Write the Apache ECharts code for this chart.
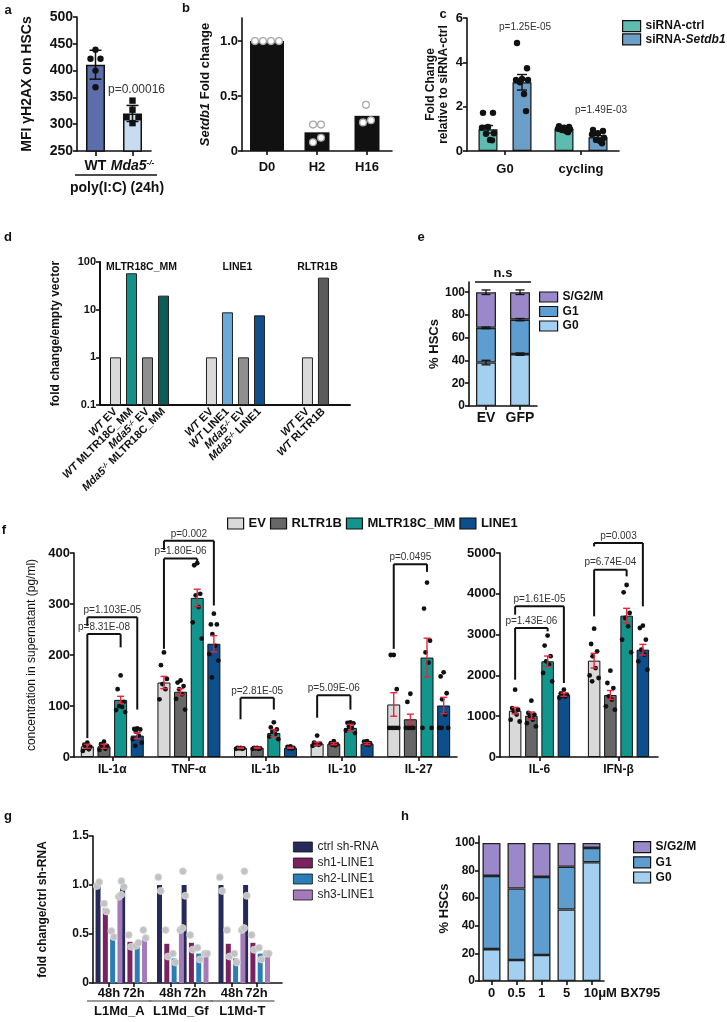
<!DOCTYPE html>
<html><head><meta charset="utf-8">
<script src="https://cdn.jsdelivr.net/npm/echarts@6/dist/echarts.min.js"></script>
<style>html,body{margin:0;padding:0;background:#fff}#c{width:727px;height:1022px}</style>
</head><body><div id="c"></div><script>
const FONT = "'Liberation Sans', Arial, Helvetica, sans-serif";

// ================= DATA =================
// panel a
const aCats = ['WT', 'Mda5'];
const aMeans = [411, 320];
const aErr = [27, 15];
const aDots = [[439, 422, 422, 400, 369], [344, 327, 313, 313, 302]];
const aPText = 'p=0.00016';
// panel b
const bCats = ['D0', 'H2', 'H16'];
const bValues = [1.0, 0.17, 0.32];
const bDots = [[1.0, 1.0, 1.0, 1.0], [0.24, 0.24, 0.12, 0.08], [0.42, 0.28, 0.26]];
// panel c
const cCats = ['G0', 'cycling'];
const cSeriesNames = ['siRNA-ctrl', 'siRNA-Setdb1'];
const cMeans = [[0.98, 1.0], [3.1, 0.62]];
const cErr = [[0.17, 0.04], [0.35, 0.07]];
const cDots = [
  [[1.72, 1.72, 1.08, 1.05, 0.8, 0.78, 0.5, 0.48], [1.12, 1.08, 1.05, 1.0, 0.98, 0.95, 0.9, 0.85]],
  [[4.87, 3.73, 3.25, 3.2, 3.2, 3.1, 2.57, 1.8], [0.95, 0.9, 0.8, 0.75, 0.6, 0.5, 0.45, 0.35]]
];
const cPTexts = ['p=1.25E-05', 'p=1.49E-03'];
const cPLevels = [5.6, 1.85];
// panel d
const dGroups = ['MLTR18C_MM', 'LINE1', 'RLTR1B'];
const dLabels = [
  ['WT EV', 'WT MLTR18C_MM', 'Mda5 EV', 'Mda5 MLTR18C_MM'],
  ['WT EV', 'WT LINE1', 'Mda5 EV', 'Mda5 LINE1'],
  ['WT EV', 'WT RLTR1B']
];
const dValues = [[1, 58, 1, 19.7], [1, 8.8, 1, 7.6], [1, 47]];
const dTickLabels = ['0.1', '1', '10', '100'];
// panel e
const eCats = ['EV', 'GFP'];
const ePhases = ['G0', 'G1', 'S/G2/M'];
const eValues = [[38.2, 45.6], [30.5, 30.3], [31.3, 24.1]];
const eErr = [[2, 1], [0.7, 1], [2, 2]];
const eSigText = 'n.s';
// panel f
const fSeries = ['EV', 'RLTR1B', 'MLTR18C_MM', 'LINE1'];
const fCatsL = ['IL-1α', 'TNF-α', 'IL-1b', 'IL-10', 'IL-27'];
const fMeansL = [[21, 146, 18, 26, 103], [21, 128, 18, 26, 74], [112, 312, 47, 57, 195], [42, 222, 18, 26, 101]];
const fErrL = [[4, 12, 1, 3, 23], [4, 6, 1, 2, 10], [7, 17, 7, 7, 38], [6, 16, 1, 2, 16]];
const fDotsL = [
  [[28, 24, 20, 18, 15, 12], [205, 180, 153, 143, 133, 113], [18, 18, 17, 17, 16, 16], [42, 28, 26, 25, 24, 22], [200, 200, 133, 57, 57, 57, 57]],
  [[30, 25, 22, 20, 16, 14], [150, 146, 139, 133, 123, 114, 93], [18, 18, 17, 17, 16, 16], [31, 27, 25, 24, 23], [124, 108, 57, 57, 57, 57]],
  [[160, 133, 108, 100, 98, 92, 88], [380, 376, 320, 317, 294, 264, 232], [68, 58, 54, 50, 45, 40, 35], [68, 67, 66, 60, 57, 52, 47], [342, 291, 228, 205, 185, 57, 57]],
  [[56, 55, 54, 50, 42, 35, 28, 22], [281, 260, 260, 241, 218, 202, 189, 156], [21, 20, 18, 17, 16], [31, 30, 27, 25, 24], [166, 158, 125, 113, 83, 57, 57, 57]]
];
// [category, bar from, bar to, bracket level, left end, right end, label]
const fBracketsL = [
  [0, 0, 2, 241, 37, 215, 'p=8.31E-08'],
  [0, 0, 3, 274, 257, 93, 'p=1.103E-05'],
  [1, 0, 2, 389, 212, 384, 'p=1.80E-06'],
  [1, 0, 3, 424, 406, 297, 'p=0.002'],
  [2, 0, 2, 116, 74, 93, 'p=2.81E-05'],
  [3, 0, 2, 121, 77, 93, 'p=5.09E-06'],
  [4, 0, 2, 378, 212, 363, 'p=0.0495']
];
const fCatsR = ['IL-6', 'IFN-β'];
const fMeansR = [[1136, 2361], [1013, 1520], [2345, 3464], [1528, 2631]];
const fErrR = [[80, 180], [90, 110], [130, 180], [40, 130]];
const fDotsR = [
  [[1650, 1200, 1160, 1120, 1040, 915, 870], [3145, 2770, 2590, 2467, 2180, 2000, 1936, 1855]],
  [[1380, 1080, 1040, 1000, 915, 830, 750], [2115, 1814, 1690, 1487, 1405, 1242, 1160]],
  [[2975, 2730, 2470, 2345, 2263, 2060, 1855], [4216, 4036, 3529, 3407, 3203, 2876, 2565]],
  [[1650, 1560, 1530, 1500, 1480, 1450], [3219, 3162, 2876, 2631, 2508, 2345, 2141]]
];
const fBracketsR = [
  [0, 0, 2, 3162, 1895, 3080, 'p=1.43E-06'],
  [0, 0, 3, 3693, 3488, 1814, 'p=1.61E-05'],
  [1, 0, 2, 4591, 3448, 4428, 'p=6.74E-04'],
  [1, 0, 3, 5245, 5163, 3693, 'p=0.003']
];
// panel g
const gGroups = ['L1Md_A', 'L1Md_Gf', 'L1Md-T'];
const gTimes = ['48h', '72h'];
const gSeries = ['ctrl sh-RNA', 'sh1-LINE1', 'sh2-LINE1', 'sh3-LINE1'];
const gValues = [
  [0.99, 0.97, 1.0, 1.0, 1.0, 1.0],
  [0.76, 0.42, 0.40, 0.41, 0.40, 0.41],
  [0.45, 0.37, 0.25, 0.30, 0.25, 0.30],
  [0.88, 0.47, 0.53, 0.30, 0.54, 0.30]
];
const gDots = [
  [[0.99, 1.03], [1.04, 0.98], [1.08, 0.94], [1.14, 0.89], [1.08, 0.94], [1.14, 0.89]],
  [[0.81, 0.73], [0.49, 0.37], [0.54, 0.27], [0.49, 0.34], [0.54, 0.27], [0.49, 0.34]],
  [[0.53, 0.47], [0.38, 0.41], [0.30, 0.21], [0.36, 0.24], [0.30, 0.21], [0.36, 0.24]],
  [[0.88, 0.90], [0.54, 0.46], [0.54, 0.56], [0.30, 0.30], [0.54, 0.56], [0.30, 0.30]]
];
// panel h
const hCats = ['0', '0.5', '1', '5', '10μM BX795'];
const hValues = [[23.1, 15.2, 18.8, 51.8, 86.0], [53.0, 51.8, 56.6, 30.9, 10.4], [23.9, 33.0, 24.6, 17.3, 3.6]];

// ================= STYLE =================
const PH_COLORS = {'G0': '#a3cff0', 'G1': '#5e9dcf', 'S/G2/M': '#9b88c9'};
const A_COLORS = ['#5b6ea9', '#c7dcf0'];
const C_COLORS = ['#5dbcaf', '#6b9fc7'];
const D_COLORS = [['#d9d9d9', '#12918b', '#8f8f8f', '#0d5c58'], ['#d9d9d9', '#6aaad8', '#8f8f8f', '#0f4f8a'], ['#d9d9d9', '#5b5b5b']];
const F_COLORS = ['#d9d9d9', '#676767', '#12958d', '#0d4e8c'];
const G_COLORS = ['#262a5a', '#7a2160', '#2a7db5', '#a47bb8'];
const JIT = [0, -3, 3, -1.5, 1.5, -4.5, 4.5, -2, 2];

function merge(a, b) {
  const out = Object.assign({}, a);
  for (const k in b) {
    const v = b[k];
    if (v && typeof v === 'object' && !Array.isArray(v) && a[k] && typeof a[k] === 'object' && !Array.isArray(a[k])) out[k] = merge(a[k], v);
    else out[k] = v;
  }
  return out;
}
const grids = [], xAxes = [], yAxes = [], series = [], legends = [], graphics = [];
const AX = {
  splitLine: {show: false},
  axisLine: {show: true, onZero: false, lineStyle: {color: '#111', width: 1.6}},
  axisTick: {show: true, length: 4, lineStyle: {color: '#111', width: 1.6}},
  axisLabel: {color: '#111', fontWeight: 'bold', fontFamily: FONT, fontSize: 12, margin: 4, hideOverlap: false},
  nameTextStyle: {color: '#111', fontWeight: 'bold', fontFamily: FONT, fontSize: 13},
  nameLocation: 'middle'
};
function addGrid(g) { grids.push(g); return grids.length - 1; }
function addX(o) {
  const ax = merge(AX, o);
  if (ax.type === 'category') ax.axisLabel = Object.assign({interval: 0}, ax.axisLabel);
  xAxes.push(ax); return xAxes.length - 1;
}
function addY(o) { yAxes.push(merge(AX, o)); return yAxes.length - 1; }
function circle(x, y, r, fill, stroke, lw) { return {type: 'circle', shape: {cx: x, cy: y, r: r}, style: {fill: fill, stroke: stroke || null, lineWidth: lw || 0}}; }
function rect(x, y, w, h, fill) { return {type: 'rect', shape: {x: x, y: y, width: w, height: h}, style: {fill: fill}}; }
function line(x1, y1, x2, y2, color, w) { return {type: 'line', shape: {x1: x1, y1: y1, x2: x2, y2: y2}, style: {stroke: color, lineWidth: w}}; }
function text(x, y, str, opts) { return {type: 'text', x: x, y: y, style: Object.assign({text: str, fill: '#222', fontSize: 10, fontFamily: FONT, align: 'center', verticalAlign: 'bottom'}, opts || {})}; }
function errBar(x, yTop, yBot, cap, color, w) { return [line(x, yTop, x, yBot, color, w), line(x - cap, yTop, x + cap, yTop, color, w), line(x - cap, yBot, x + cap, yBot, color, w)]; }
function overlay(xi, yi, yBase, draw) {
  series.push({type: 'custom', name: 'overlay' + series.length, xAxisIndex: xi, yAxisIndex: yi, data: [[0, yBase]], silent: true, z: 10, clip: false,
    renderItem: function (params, api) { return {type: 'group', children: draw(api)}; }});
}
const LEG = {padding: 0, icon: 'rect', selectedMode: false, itemStyle: {borderColor: '#111', borderWidth: 1.2},
  textStyle: {fontWeight: 'bold', fontSize: 12, fontFamily: FONT, color: '#111', padding: [0, 0, 0, 0]}};
function addLegend(o) { legends.push(merge(LEG, o)); }
const richI = (size) => ({fontStyle: 'italic', fontWeight: 'bold', fontSize: size, fontFamily: FONT, color: '#111'});
const richS = (size) => ({fontStyle: 'italic', fontWeight: 'bold', fontSize: size, fontFamily: FONT, color: '#111', verticalAlign: 'top'});
const plain = v => String(v);

// ================= PANEL a =================
(function () {
  const g = addGrid({left: 77, top: 17, width: 74, height: 134});
  const xi = addX({gridIndex: g, type: 'category', data: aCats, axisTick: {alignWithLabel: true, length: 5},
    axisLabel: {fontSize: 14, margin: 8, formatter: v => v === 'Mda5' ? '{i|Mda5}{s|-/-}' : v, rich: {i: richI(14), s: richS(8)}}});
  const yi = addY({gridIndex: g, min: 250, max: 500, interval: 50, axisLabel: {fontSize: 14, formatter: plain}, name: 'MFI γH2AX on HSCs', nameGap: 43, nameTextStyle: {fontSize: 14}});
  series.push({type: 'bar', name: 'a', xAxisIndex: xi, yAxisIndex: yi, barWidth: 19,
    data: aMeans.map((v, i) => ({value: v, itemStyle: {color: A_COLORS[i]}})), itemStyle: {borderColor: '#111', borderWidth: 1.5}});
  overlay(xi, yi, 250, api => {
    const ch = [];
    const DX = [[0, -5, 5, 0, 0], [0, 0, -6, 6, 0]];
    aCats.forEach((c, i) => {
      const cx = api.coord([i, aMeans[i]])[0];
      ch.push(...errBar(cx, api.coord([i, aMeans[i] + aErr[i]])[1], api.coord([i, aMeans[i] - aErr[i]])[1], 6, '#111', 1.5));
      aDots[i].forEach((v, j) => {
        const y = api.coord([i, v])[1], x = cx + DX[i][j];
        ch.push(i === 0 ? circle(x, y, 3.2, '#111') : rect(x - 3.2, y - 3.2, 6.4, 6.4, '#111'));
      });
    });
    const p = api.coord([1, 364]);
    ch.push(text(p[0] + 4, p[1], aPText, {fontSize: 12, verticalAlign: 'middle', fill: '#333'}));
    return ch;
  });
  graphics.push({type: 'line', shape: {x1: 75, y1: 175, x2: 157, y2: 175}, style: {stroke: '#111', lineWidth: 1.5}});
  graphics.push({type: 'text', x: 117, y: 188, style: {text: 'poly(I:C) (24h)', fill: '#111', fontSize: 14, fontWeight: 'bold', fontFamily: FONT, align: 'center', verticalAlign: 'middle'}});
})();

// ================= PANEL b =================
(function () {
  const g = addGrid({left: 242, top: 18, width: 150, height: 133});
  const xi = addX({gridIndex: g, type: 'category', data: bCats, axisTick: {alignWithLabel: true}, axisLabel: {fontSize: 13, margin: 10}});
  const xi2 = addX({gridIndex: g, type: 'category', data: bCats, show: false});
  const yi = addY({gridIndex: g, min: 0, max: 1.21, axisLabel: {fontSize: 13, customValues: [0, 0.5, 1], formatter: v => v === 0 ? '0' : v.toFixed(1)},
    axisTick: {customValues: [0, 0.5, 1]}, name: '{i|Setdb1} Fold change', nameGap: 30, nameTextStyle: {fontSize: 13, rich: {i: richI(13)}}});
  series.push({type: 'bar', name: 'b1', xAxisIndex: xi, yAxisIndex: yi, barWidth: 34, data: bValues.map((v, i) => i === 0 ? v : '-'), itemStyle: {color: '#111'}});
  series.push({type: 'bar', name: 'b2', xAxisIndex: xi2, yAxisIndex: yi, barWidth: 25, data: bValues.map((v, i) => i === 0 ? '-' : v), itemStyle: {color: '#111'}});
  overlay(xi, yi, 0, api => {
    const ch = [];
    const DX = [[-12, -4, 4, 12], [-4, 4, 4, -4], [-1, 4, -4]];
    bCats.forEach((c, i) => {
      const cx = api.coord([i, 0])[0];
      bDots[i].forEach((v, j) => ch.push(circle(cx + DX[i][j], api.coord([i, v])[1], 3.4, '#fff', '#a8a8a8', 1.3)));
    });
    return ch;
  });
})();

// ================= PANEL c =================
(function () {
  const g = addGrid({left: 467, top: 18, width: 152, height: 133});
  const xi = addX({gridIndex: g, type: 'category', data: cCats, axisTick: {alignWithLabel: true}, axisLabel: {fontSize: 13, margin: 12}});
  const yi = addY({gridIndex: g, min: 0, max: 6, interval: 2, axisLabel: {fontSize: 13},
    name: 'Fold Change\nrelative to siRNA-ctrl', nameGap: 17, nameTextStyle: {fontSize: 12, lineHeight: 13}});
  cSeriesNames.forEach((n, k) => series.push({type: 'bar', name: n, xAxisIndex: xi, yAxisIndex: yi, barWidth: 19, barGap: '79%',
    data: cMeans[k], itemStyle: {color: C_COLORS[k], borderColor: '#111', borderWidth: 1.2}}));
  overlay(xi, yi, 0, api => {
    const ch = [];
    const JC = [-5, 5, 0, -6, 6, -2, 2, 4];
    cSeriesNames.forEach((n, k) => cCats.forEach((c, ci) => {
      const x = api.coord([ci, 0])[0] + (k - 0.5) * 19 * 1.79;
      ch.push(...errBar(x, api.coord([ci, cMeans[k][ci] + cErr[k][ci]])[1], api.coord([ci, cMeans[k][ci] - cErr[k][ci]])[1], 5, '#111', 1.4));
      cDots[k][ci].forEach((v, j) => ch.push(circle(x + JC[j % JC.length], api.coord([ci, v])[1], 3.2, '#111')));
      if (k === 1) ch.push(text(x + 3, api.coord([ci, cPLevels[ci]])[1], cPTexts[ci], {fontSize: 10, fill: '#333', verticalAlign: 'middle'}));
    }));
    return ch;
  });
  addLegend({data: cSeriesNames, left: 622, top: 20, orient: 'vertical', itemWidth: 18, itemHeight: 11, itemGap: 1,
    textStyle: {fontSize: 12, rich: {i: richI(12)}}, formatter: n => n === 'siRNA-Setdb1' ? 'siRNA-{i|Setdb1}' : n});
})();

// ================= PANEL d =================
(function () {
  const g = addGrid({left: 100, top: 262, width: 250, height: 143});
  const pos = [], labelAt = {}, data = [];
  dLabels.forEach((grp, gi) => grp.forEach((l, i) => {
    const p = gi * 6 + i;
    pos.push(p); labelAt[p] = l;
    data.push({value: [p, Math.log10(dValues[gi][i]) - Math.log10(+dTickLabels[0])], itemStyle: {color: D_COLORS[gi][i]}});
  }));
  const fmt = l => {
    const m = l.match(/^(WT|Mda5) (.*)$/);
    return m[1] === 'WT' ? '{i|WT} {n|' + m[2] + '}' : '{i|Mda5}{s|-/-} {n|' + m[2] + '}';
  };
  const xi = addX({gridIndex: g, type: 'value', min: -0.97, max: 14.66, axisTick: {show: false}, axisLine: {lineStyle: {width: 2}},
    axisLabel: {customValues: pos, rotate: 45, fontSize: 11, margin: 5, formatter: v => fmt(labelAt[v]),
      rich: {i: richI(11), s: richS(7), n: {fontWeight: 'bold', fontSize: 11, fontFamily: FONT, color: '#111'}}}});
  const yi = addY({gridIndex: g, min: 0, max: 3, interval: 1, axisLine: {lineStyle: {width: 2}},
    axisLabel: {fontSize: 11, formatter: v => dTickLabels[v]}, name: 'fold change/empty vector', nameGap: 38, nameTextStyle: {fontSize: 12, fontWeight: 'bold'}});
  series.push({type: 'bar', name: 'd', xAxisIndex: xi, yAxisIndex: yi, barWidth: 11, data: data, itemStyle: {borderColor: '#222', borderWidth: 1}});
  overlay(xi, yi, 0, api => {
    const ch = [];
    dGroups.forEach((gname, gi) => {
      const ps = dLabels[gi].map((l, i) => gi * 6 + i);
      const x = (api.coord([ps[0], 3])[0] + api.coord([ps[ps.length - 1], 3])[0]) / 2;
      ch.push(text(x + 2, api.coord([ps[0], 3])[1] + 5, gname, {fontSize: 10.5, fontWeight: 'bold', fill: '#111', verticalAlign: 'middle'}));
    });
    return ch;
  });
})();

// ================= PANEL e =================
(function () {
  const g = addGrid({left: 469, top: 282, width: 68, height: 124});
  const xi = addX({gridIndex: g, type: 'category', data: eCats, axisTick: {alignWithLabel: true}, axisLabel: {fontSize: 14, margin: 5}});
  const ticks = [0, 20, 40, 60, 80, 100];
  const yi = addY({gridIndex: g, min: 0, max: 109, axisLabel: {fontSize: 12, customValues: ticks}, axisTick: {customValues: ticks},
    name: '% HSCs', nameGap: 24, nameTextStyle: {fontSize: 13}});
  ePhases.forEach((p, k) => series.push({type: 'bar', name: p, xAxisIndex: xi, yAxisIndex: yi, stack: 'e', barWidth: 20,
    data: eValues[k], itemStyle: {color: PH_COLORS[p], borderColor: '#222', borderWidth: 1.3}}));
  overlay(xi, yi, 0, api => {
    const ch = [];
    eCats.forEach((c, ci) => {
      let cum = 0;
      ePhases.forEach((p, k) => {
        cum += eValues[k][ci];
        const x = api.coord([ci, cum])[0];
        ch.push(...errBar(x, api.coord([ci, cum + eErr[k][ci]])[1], api.coord([ci, cum - eErr[k][ci]])[1], 4.5, '#111', 1.3));
      });
    });
    const x1 = api.coord([0, 0])[0] - 11, x2 = api.coord([1, 0])[0] + 11, y = api.coord([0, 109])[1];
    ch.push(line(x1, y, x2, y, '#111', 1.5));
    ch.push(text((x1 + x2) / 2, y - 2, eSigText, {fontSize: 13, fontWeight: 'bold', fill: '#111'}));
    return ch;
  });
  addLegend({data: ['S/G2/M', 'G1', 'G0'], left: 539, top: 291, orient: 'vertical', itemWidth: 18, itemHeight: 10, itemGap: 2.5, textStyle: {fontSize: 12}});
})();

// ================= PANEL f =================
function fOverlay(xi, yi, cats, means, errs, dots, brackets, bw, gap) {
  overlay(xi, yi, 0, api => {
    const ch = [];
    const step = bw * (1 + gap);
    const bx = (c, k) => api.coord([c, 0])[0] + (k - (fSeries.length - 1) / 2) * step;
    const Y = v => api.coord([0, v])[1];
    fSeries.forEach((s, k) => cats.forEach((c, ci) => {
      const x = bx(ci, k);
      dots[k][ci].forEach((v, j) => ch.push(circle(x + JIT[j % JIT.length], Y(v), 2.4, '#111')));
      ch.push(...errBar(x, Y(means[k][ci] + errs[k][ci]), Y(means[k][ci] - errs[k][ci]), 3.5, '#e3263f', 1.4));
    }));
    brackets.forEach(b => {
      const x1 = bx(b[0], b[1]), x2 = bx(b[0], b[2]);
      ch.push(line(x1, Y(b[3]), x2, Y(b[3]), '#111', 2), line(x1, Y(b[3]), x1, Y(b[4]), '#111', 2), line(x2, Y(b[3]), x2, Y(b[5]), '#111', 2));
      ch.push(text((x1 + x2) / 2, Y(b[3]) - 2, b[6], {fontSize: 10, fill: '#333'}));
    });
    return ch;
  });
}
(function () {
  const g = addGrid({left: 74, top: 553, width: 383, height: 204});
  const xi = addX({gridIndex: g, type: 'category', data: fCatsL, axisTick: {alignWithLabel: true}, axisLabel: {fontSize: 12, margin: 7}});
  const yi = addY({gridIndex: g, min: 0, max: 400, interval: 100, axisLabel: {fontSize: 13, formatter: plain},
    name: 'concentration in supernatant (pg/ml)', nameGap: 36, nameTextStyle: {fontSize: 12, fontWeight: 'normal'}});
  fSeries.forEach((n, k) => series.push({type: 'bar', name: n, xAxisIndex: xi, yAxisIndex: yi, barWidth: 13, barGap: '28%',
    data: fMeansL[k], itemStyle: {color: F_COLORS[k], borderColor: '#111', borderWidth: 1}}));
  fOverlay(xi, yi, fCatsL, fMeansL, fErrL, fDotsL, fBracketsL, 13, 0.28);

  const g2 = addGrid({left: 500, top: 553, width: 158, height: 204});
  const xi2 = addX({gridIndex: g2, type: 'category', data: fCatsR, axisTick: {alignWithLabel: true}, axisLabel: {fontSize: 12, margin: 7}});
  const yi2 = addY({gridIndex: g2, min: 0, max: 5000, interval: 1000, axisLabel: {fontSize: 13, formatter: plain}});
  fSeries.forEach((n, k) => series.push({type: 'bar', name: n, xAxisIndex: xi2, yAxisIndex: yi2, barWidth: 12.5, barGap: '30%',
    data: fMeansR[k], itemStyle: {color: F_COLORS[k], borderColor: '#111', borderWidth: 1}}));
  fOverlay(xi2, yi2, fCatsR, fMeansR, fErrR, fDotsR, fBracketsR, 12.5, 0.30);

  addLegend({data: fSeries, left: 227, top: 517, orient: 'horizontal', itemWidth: 16, itemHeight: 11, itemGap: 4, textStyle: {fontSize: 13}});
})();

// ================= PANEL g =================
(function () {
  const g = addGrid({left: 93, top: 836, width: 189, height: 147});
  const pos = [];
  gGroups.forEach((gr, gi) => gTimes.forEach((t, ti) => pos.push(gi * 5 + ti * 2)));
  const xi = addX({gridIndex: g, type: 'value', min: -1.3, max: 14.07, axisTick: {customValues: pos},
    axisLabel: {customValues: pos, fontSize: 13, margin: 4, formatter: v => gTimes[pos.indexOf(v) % 2]}});
  const yi = addY({gridIndex: g, min: 0, max: 1.5, interval: 0.5, axisLabel: {fontSize: 12, formatter: v => v === 0 ? '0' : v.toFixed(1)},
    name: 'fold change/ctrl sh-RNA', nameGap: 44, nameTextStyle: {fontSize: 12}});
  gSeries.forEach((n, k) => series.push({type: 'bar', name: n, xAxisIndex: xi, yAxisIndex: yi, barWidth: 5, barGap: '46%',
    data: gValues[k].map((v, j) => [pos[j], v]), itemStyle: {color: G_COLORS[k]}}));
  overlay(xi, yi, 0, api => {
    const ch = [];
    const step = 5 * 1.46;
    gSeries.forEach((n, k) => pos.forEach((p, j) => {
      const x = api.coord([p, 0])[0] + (k - 1.5) * step;
      gDots[k][j].forEach((v, d) => ch.push(circle(x + (d === 0 ? -1.2 : 1.2), api.coord([p, v])[1], 3.5, '#c2c2c2', '#dadada', 0.8)));
    }));
    const yb = api.coord([0, 0])[1];
    gGroups.forEach((gr, gi) => {
      const x1 = api.coord([pos[gi * 2], 0])[0] - 22, x2 = api.coord([pos[gi * 2 + 1], 0])[0] + 18;
      ch.push(line(x1, yb + 18, x2, yb + 18, '#777', 1.3));
      ch.push(text((x1 + x2) / 2, yb + 28, gr, {fontSize: 13, fontWeight: 'bold', fill: '#111', verticalAlign: 'middle'}));
    });
    return ch;
  });
  addLegend({data: gSeries, left: 293, top: 841, orient: 'vertical', itemWidth: 19, itemHeight: 10, itemGap: 4,
    itemStyle: {borderWidth: 0.8}, textStyle: {fontSize: 12, fontWeight: 'normal', color: '#222'}});
})();

// ================= PANEL h =================
(function () {
  const g = addGrid({left: 479, top: 836, width: 125, height: 145});
  const last = hCats[hCats.length - 1];
  const xi = addX({gridIndex: g, type: 'category', data: hCats, axisTick: {alignWithLabel: true},
    axisLabel: {fontSize: 13, margin: 6, formatter: v => v === last ? '{L|' + v + '}' : v,
      rich: {L: {padding: [0, 0, 0, 61], fontWeight: 'bold', fontSize: 13, fontFamily: FONT, color: '#111'}}}});
  const ticks = [0, 20, 40, 60, 80, 100];
  const yi = addY({gridIndex: g, min: 0, max: 105, axisLabel: {fontSize: 12, customValues: ticks}, axisTick: {customValues: ticks},
    name: '% HSCs', nameGap: 27, nameTextStyle: {fontSize: 13}});
  ePhases.forEach((p, k) => series.push({type: 'bar', name: p, xAxisIndex: xi, yAxisIndex: yi, stack: 'h', barWidth: 18,
    data: hValues[k], itemStyle: {color: PH_COLORS[p], borderColor: '#222', borderWidth: 1.3}}));
  addLegend({data: ['S/G2/M', 'G1', 'G0'], left: 633, top: 841, orient: 'vertical', itemWidth: 17, itemHeight: 11, itemGap: 3, textStyle: {fontSize: 12}});
})();

// panel letters
[['a', 8, 10], ['b', 186, 8], ['c', 443, 14], ['d', 8, 237], ['e', 421, 237], ['f', 4, 530], ['g', 8, 816], ['h', 405, 816]].forEach(l => {
  graphics.push({type: 'text', x: l[1], y: l[2], style: {text: l[0], fill: '#111', fontSize: 13, fontWeight: 'bold', fontFamily: FONT, align: 'center', verticalAlign: 'middle'}});
});

const chart = echarts.init(document.getElementById('c'), null, {renderer: 'canvas'});
chart.setOption({
  animation: false,
  backgroundColor: '#fff',
  textStyle: {fontFamily: FONT},
  grid: grids, xAxis: xAxes, yAxis: yAxes, series: series, legend: legends, graphic: graphics
});
</script></body></html>
